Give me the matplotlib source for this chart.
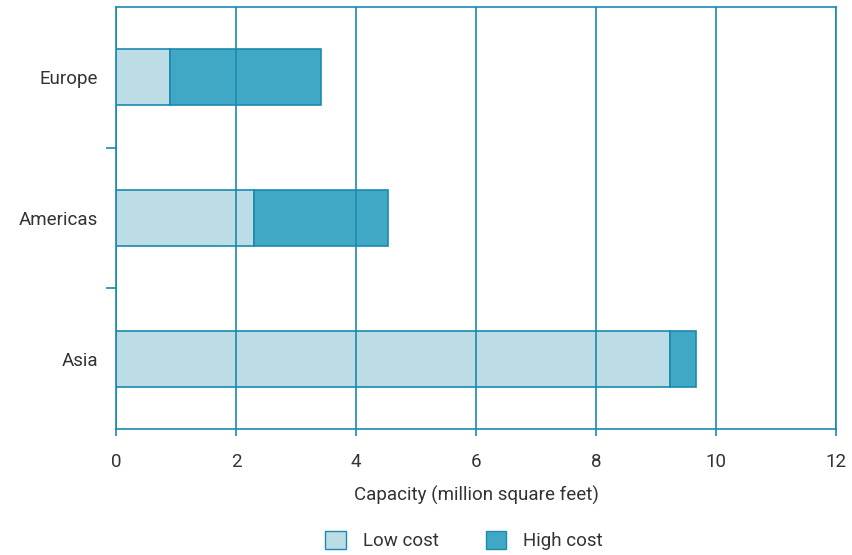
import matplotlib
matplotlib.use("Agg")
import matplotlib.pyplot as plt
from matplotlib.ticker import FixedLocator
from matplotlib.patches import Patch

regions = ["Europe", "Americas", "Asia"]
low_cost = [0.9, 2.3, 9.23]
high_cost = [2.52, 2.23, 0.44]
xticks = [0, 2, 4, 6, 8, 10, 12]

LIGHT = "#bddde6"
DARK = "#40a8c5"
EDGE = "#1a8aae"
TEXT = "#333333"

plt.rcParams['font.family'] = ['Roboto', 'DejaVu Sans']

fig = plt.figure(figsize=(8.53, 5.55), dpi=100)
ax = fig.add_axes([116/853, 1-429/555, (836-116)/853, (429-7)/555])

y = list(range(len(regions)))
ax.barh(y, low_cost, height=0.4, color=LIGHT, edgecolor=EDGE, linewidth=1.2, zorder=2, label="Low cost")
ax.barh(y, high_cost, left=low_cost, height=0.4, color=DARK, edgecolor=EDGE, linewidth=1.2, zorder=2, label="High cost")

ax.set_xlim(0, 12)
ax.set_ylim(2.5, -0.5)
ax.set_xticks(xticks)
ax.set_xticklabels([str(t) for t in xticks], fontsize=13.5, color=TEXT)
ax.set_yticks(y)
ax.set_yticklabels(regions, fontsize=13.5, color=TEXT)
ax.yaxis.set_minor_locator(FixedLocator([0.5, 1.5]))
ax.tick_params(axis='y', which='major', length=0, pad=13)
ax.tick_params(axis='y', which='minor', length=7, color=EDGE, width=1.2)
ax.tick_params(axis='x', which='major', length=5, color=EDGE, width=1.2, pad=12)

ax.grid(axis='x', color=EDGE, linewidth=1.2, zorder=3)
ax.set_axisbelow(False)
for s in ax.spines.values():
    s.set_color(EDGE)
    s.set_linewidth(1.2)

ax.set_xlabel("Capacity (million square feet)", fontsize=13.5, color=TEXT, labelpad=11)

handles = [Patch(facecolor=LIGHT, edgecolor=EDGE, label="Low cost"),
           Patch(facecolor=DARK, edgecolor=EDGE, label="High cost")]
fig.legend(handles=handles, loc='lower center', bbox_to_anchor=(0.544, -0.022), ncol=2,
           frameon=False, fontsize=13.5, handlelength=1.1, handleheight=1.1,
           columnspacing=2.5, handletextpad=0.9, labelcolor=TEXT)

fig.savefig("out.png", dpi=100)
